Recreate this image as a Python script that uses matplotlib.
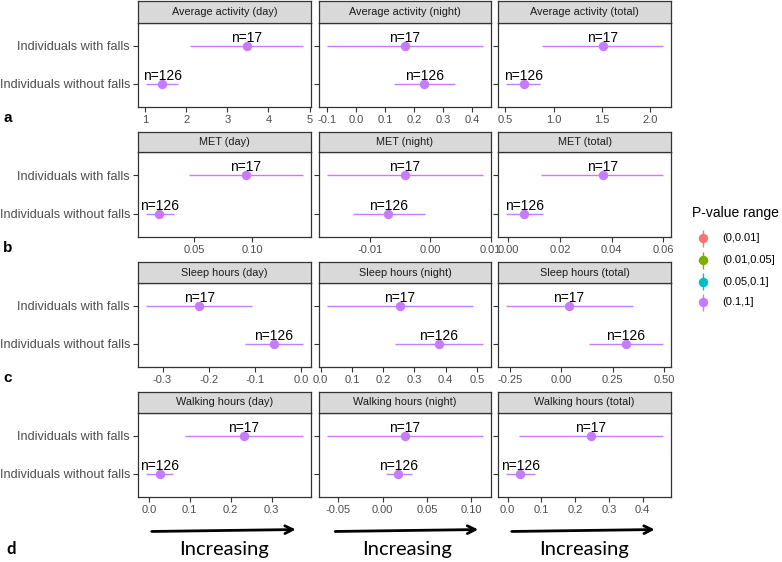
import numpy as np
import matplotlib.pyplot as plt

plt.rcParams['font.family'] = ['Liberation Sans', 'DejaVu Sans']

# ---- values: [without falls, with falls] per panel ----
groups = ["Individuals without falls", "Individuals with falls"]
n_labels = ["n=126", "n=17"]
columns = ["day", "night", "total"]
rows = ["Average activity", "MET", "Sleep hours", "Walking hours"]
row_tags = ["a", "b", "c", "d"]

activity_est = [[1.42, 3.47], [0.235, 0.167], [0.69, 1.507]]
activity_lo = [[1.03, 2.09], [0.13, -0.102], [0.51, 0.88]]
activity_hi = [[1.81, 4.84], [0.34, 0.438], [0.86, 2.13]]

met_est = [[0.0197, 0.0948], [-0.0070, -0.0043], [0.0061, 0.0364]]
met_lo = [[0.0084, 0.0457], [-0.0129, -0.0173], [-0.0009, 0.0127]]
met_hi = [[0.0324, 0.1442], [-0.00095, 0.0088], [0.0133, 0.0598]]

sleep_est = [[-0.0593, -0.220], [0.379, 0.253], [0.315, 0.0375]]
sleep_lo = [[-0.1206, -0.3355], [0.237, 0.019], [0.133, -0.268]]
sleep_hi = [[0.0043, -0.106], [0.521, 0.489], [0.495, 0.347]]

walk_est = [[0.0262, 0.232], [0.0177, 0.025], [0.038, 0.247]]
walk_lo = [[-0.0064, 0.0875], [0.0034, -0.063], [-0.0044, 0.035]]
walk_hi = [[0.0588, 0.376], [0.0335, 0.1135], [0.081, 0.46]]

activity_ticks = [["1", "2", "3", "4", "5"],
                  ["-0.1", "0.0", "0.1", "0.2", "0.3", "0.4"],
                  ["0.5", "1.0", "1.5", "2.0"]]
met_ticks = [["0.05", "0.10"],
             ["-0.01", "0.00", "0.01"],
             ["0.00", "0.02", "0.04", "0.06"]]
sleep_ticks = [["-0.3", "-0.2", "-0.1", "0.0"],
               ["0.0", "0.1", "0.2", "0.3", "0.4", "0.5"],
               ["-0.25", "0.00", "0.25", "0.50"]]
walk_ticks = [["0.0", "0.1", "0.2", "0.3"],
              ["-0.05", "0.00", "0.05", "0.10"],
              ["0.0", "0.1", "0.2", "0.3", "0.4"]]

pval_levels = ["(0,0.01]", "(0.01,0.05]", "(0.05,0.1]", "(0.1,1]"]
pval_colors = ["#F8766D", "#7CAE00", "#00BFC4", "#C77CFF"]
point_color = pval_colors[3]

est_all = [activity_est, met_est, sleep_est, walk_est]
lo_all = [activity_lo, met_lo, sleep_lo, walk_lo]
hi_all = [activity_hi, met_hi, sleep_hi, walk_hi]
ticks_all = [activity_ticks, met_ticks, sleep_ticks, walk_ticks]

# ---- layout in pixels ----
W, H = 782, 562
fig = plt.figure(figsize=(W / 100, H / 100), dpi=100)


def rect(x0, y0, x1, y1):
    return [x0 / W, 1 - y1 / H, (x1 - x0) / W, (y1 - y0) / H]


strip_top = [1.0, 131.7, 262.3, 391.7]
body_top = [22.7, 152.3, 282.7, 412.7]
body_bot = [106.7, 236.7, 366.7, 496.7]
col_left = [138.3, 318.7, 498.3]
col_w = 172.5
frame = "#333333"

for r in range(4):
    for c in range(3):
        x0 = col_left[c]
        ax = fig.add_axes(rect(x0, body_top[r], x0 + col_w, body_bot[r]))
        est = np.array(est_all[r][c])
        lo = np.array(lo_all[r][c])
        hi = np.array(hi_all[r][c])
        ypos = np.arange(len(groups))
        ax.hlines(ypos, lo, hi, color=point_color, lw=1.0)
        ax.plot(est, ypos, "o", color=point_color, ms=5.8, zorder=3)
        for k in range(len(groups)):
            ax.annotate(n_labels[k], (est[k], ypos[k]), xytext=(0, 2.8),
                        textcoords="offset points", ha="center", va="baseline",
                        fontsize=10, color="black")
        span = hi.max() - lo.min()
        ax.set_xlim(lo.min() - 0.05 * span, hi.max() + 0.05 * span)
        ax.set_ylim(-0.6, 1.6)
        labels = ticks_all[r][c]
        ax.set_xticks([float(t) for t in labels])
        ax.set_xticklabels(labels)
        ax.set_yticks(ypos)
        if c == 0:
            ax.set_yticklabels(groups, fontsize=9.1, color="#4D4D4D")
        else:
            ax.set_yticklabels([])
            ax.tick_params(axis="y", length=0)
        ax.tick_params(axis="x", labelsize=8, labelcolor="#4D4D4D")
        ax.tick_params(length=3.8, width=0.8, color=frame, pad=2.2)
        for s in ax.spines.values():
            s.set_color(frame)
            s.set_linewidth(0.9)

        sx = fig.add_axes(rect(x0, strip_top[r], x0 + col_w, body_top[r]))
        sx.set_facecolor("#D9D9D9")
        sx.set_xticks([])
        sx.set_yticks([])
        for s in sx.spines.values():
            s.set_color(frame)
            s.set_linewidth(0.9)
        sx.text(0.5, 0.5, f"{rows[r]} ({columns[c]})", ha="center", va="center",
                fontsize=7.8, color="#1A1A1A", transform=sx.transAxes)

# panel tags
tag_y = [118, 248, 378]
for r in range(3):
    fig.text(3 / W, 1 - tag_y[r] / H, row_tags[r], fontsize=11, fontweight="bold",
             ha="left", va="center")
fig.text(6 / W, 1 - 549 / H, row_tags[3], fontsize=12, fontweight="bold",
         family=["Lato", "DejaVu Sans"], ha="left", va="center")

# "Increasing" arrows under the bottom row
arrow_x = [(149, 298.5), (332.5, 481), (509, 657.5)]
word_x = [224, 407.5, 584]
for (a0, a1), wx in zip(arrow_x, word_x):
    fig.add_artist(plt.matplotlib.patches.FancyArrowPatch(
        (a0 / W, 1 - 531.5 / H), (a1 / W, 1 - 529.5 / H),
        transform=fig.transFigure, arrowstyle="->", mutation_scale=14,
        lw=2.0, color="black"))
    fig.text(wx / W, 1 - 549 / H, "Increasing", fontsize=14.5,
             family=["Lato", "DejaVu Sans"], ha="center", va="center")

# legend
fig.text(692 / W, 1 - 213 / H, "P-value range", fontsize=10, ha="left", va="center",
         color="black")
leg_y = [238.3, 260, 281.7, 302.3]
lax = fig.add_axes([0, 0, 1, 1], facecolor="none")
lax.set_xlim(0, W)
lax.set_ylim(H, 0)
lax.axis("off")
for lab, col, yy in zip(pval_levels, pval_colors, leg_y):
    lax.vlines(703.3, yy - 8.5, yy + 8.5, color=col, lw=1.0)
    lax.plot(703.3, yy, "o", color=col, ms=5.8)
    lax.text(722, yy, lab, fontsize=8, color="black", ha="left", va="center")

fig.savefig("out.png", dpi=100)
